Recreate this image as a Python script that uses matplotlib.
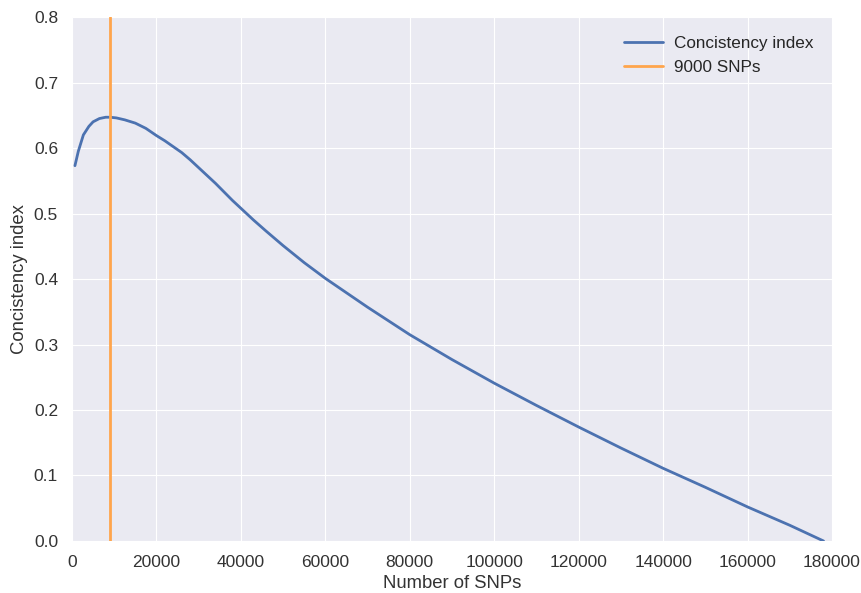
import matplotlib
matplotlib.use("Agg")
import matplotlib.pyplot as plt

plt.style.use("seaborn-v0_8-darkgrid")
plt.rcParams["font.family"] = ["Liberation Sans", "DejaVu Sans"]

# Consistency index versus number of SNPs kept
n_snps = [700, 1500, 2700, 4000, 5000, 6500, 8000, 9000, 10500, 12500, 15000,
          17500, 20000, 22000, 24000, 26000, 28000, 30000, 32000, 34000,
          36000, 38000, 40000, 43000, 46000, 50000, 55000, 60000, 70000,
          80000, 90000, 100000, 110000, 120000, 130000, 140000, 150000,
          160000, 170000, 178000]
ci = [0.573, 0.595, 0.620, 0.633, 0.640, 0.645, 0.647, 0.647, 0.646, 0.643,
      0.638, 0.630, 0.619, 0.611, 0.602, 0.593, 0.582, 0.570, 0.558, 0.546,
      0.533, 0.520, 0.508, 0.490, 0.473, 0.451, 0.425, 0.401, 0.357, 0.315,
      0.277, 0.241, 0.207, 0.174, 0.142, 0.111, 0.082, 0.052, 0.024, 0.000]
cutoff = 9000

fig = plt.figure(figsize=(8.62, 5.93), dpi=100)
ax = fig.add_axes([0.0835, 0.0877, 0.8817, 0.8836])
ax.plot(n_snps, ci, color="#4c72b0", lw=2, label="Concistency index")
ax.axvline(cutoff, color="#ffa54c", lw=2, label="9000 SNPs")
ax.set_xlim(0, 180000)
ax.set_ylim(0, 0.8)
ax.set_xlabel("Number of SNPs", fontsize=13.3, color="#333333", labelpad=4)
ax.set_ylabel("Concistency index", fontsize=13.3, color="#333333", labelpad=4)
ax.tick_params(labelsize=12.5, colors="#333333", pad=10)
ax.legend(loc="upper right", fontsize=12.3, frameon=False, handlelength=2.3,
          handletextpad=0.6, labelspacing=0.55, borderaxespad=0.7)
fig.savefig("out.png", dpi=100)
